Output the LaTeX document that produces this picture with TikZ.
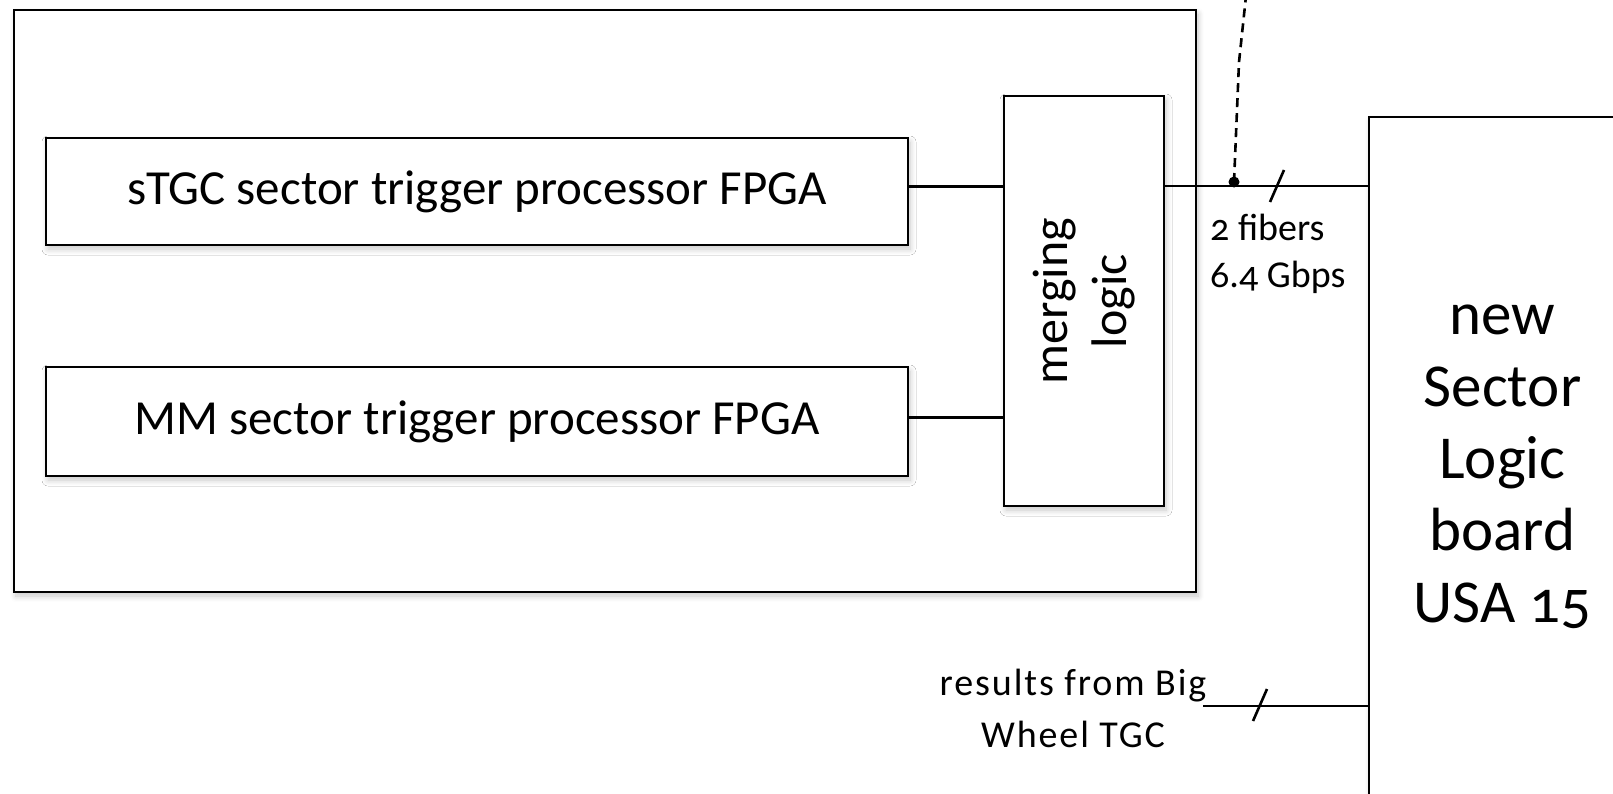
\documentclass[tikz,border=0pt]{standalone}
\usepackage{fontspec}
\setmainfont{Carlito}[Numbers=OldStyle]
\usetikzlibrary{shadows.blur}
\tikzset{
  box/.style={draw=black, line width=2.8pt, fill=white, inner sep=0pt, outer sep=0pt,
    blur shadow={shadow blur steps=8, shadow xshift=2pt, shadow yshift=-4pt, shadow opacity=22, shadow blur radius=6pt}},
  wire/.style={draw=black, line width=2.6pt},
  tick/.style={draw=black, line width=2.6pt},
  bigtxt/.style={font=\fontsize{49}{58}\selectfont},
}
\begin{document}
\begin{tikzpicture}[x=1pt,y=-1pt]
\useasboundingbox (0,0) rectangle (1613,793);
\begin{scope}
\clip (0,0) rectangle (1613,793);
\node[box, minimum width=1182pt, minimum height=582pt] (outer) at (605,301) {};
\node[box, minimum width=862pt, minimum height=107pt, bigtxt] (stgc) at (477,191.5) {sTGC sector trigger processor FPGA};
\node[box, minimum width=862pt, minimum height=109pt, bigtxt] (mm) at (477,421.5) {MM sector trigger processor FPGA};
\node[box, minimum width=160pt, minimum height=410pt] (merge) at (1084,301) {};
\node[rotate=90, align=center, font=\fontsize{50}{59}\selectfont] (mergetxt) at (merge.center) {merging\\logic};
\node[box, minimum width=267pt, minimum height=700pt, align=center, font=\fontsize{61}{72}\selectfont] (board) at (1502.5,467) {new\\Sector\\Logic\\board\\USA 15};

\draw[wire] ([yshift=5pt]stgc.east) -- ([yshift=5pt]stgc.east -| merge.west);
\draw[wire] ([yshift=4pt]mm.east) -- ([yshift=4pt]mm.east -| merge.west);
\coordinate (mout) at (merge.east |- 0,186);
\coordinate (bin) at (board.west |- 0,186);
\draw[wire] (mout) -- (bin);
\coordinate (dot) at (1234,182);
\coordinate (bend) at (1239,62);
\coordinate (top) at (1246,-4);
\draw[wire, dash pattern=on 9pt off 6pt] (dot) -- (bend) -- (top);
\fill (dot) circle (5.5pt);
\coordinate (s1) at (1277,186);
\draw[tick] ($(s1)+(-7,16)$) -- ($(s1)+(7,-16)$);
\node[align=left, anchor=base west, inner sep=0pt, font=\fontsize{38}{47}\selectfont] (fib) at (1210,287) {2 fibers\\6.4 Gbps};

\coordinate (bw) at (1203,706);
\coordinate (bwin) at (board.west |- bw);
\draw[wire] (bw) -- (bwin);
\coordinate (s2) at (1260,705);
\draw[tick] ($(s2)+(-7,16)$) -- ($(s2)+(7,-16)$);
\node[align=center, anchor=base, inner sep=0pt, font=\fontsize{38}{52}\selectfont\addfontfeatures{LetterSpace=5}] (bwt) at (1073,747) {results from Big\\Wheel TGC};
\end{scope}
\end{tikzpicture}
\end{document}
